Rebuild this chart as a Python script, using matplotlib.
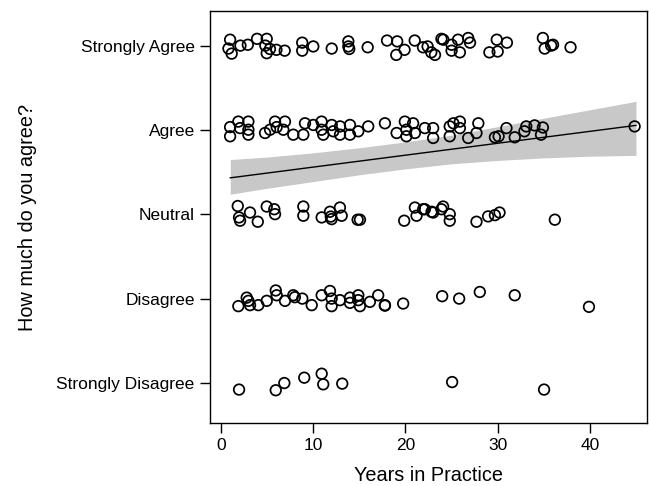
import matplotlib.pyplot as plt
import numpy as np

plt.rcParams['font.family'] = ['Liberation Sans', 'DejaVu Sans']

levels = ['Strongly Disagree', 'Disagree', 'Neutral', 'Agree', 'Strongly Agree']

# years in practice and jittered response per answer group
sa_x = [0.98, 0.8, 1.15, 2.1, 2.9, 3.9, 4.95, 4.8, 4.95, 5.3, 6.0, 6.9, 8.8, 8.8, 10.0, 12.0,
        13.8, 13.8, 13.9, 15.9, 18.0, 19.1, 19.0, 19.9, 21.0, 21.9, 22.8, 22.4, 23.2, 23.9,
        24.1, 25.0, 25.0, 25.7, 25.9, 26.8, 27.0, 29.1, 29.9, 30.0, 31.0, 34.9, 35.1, 35.8,
        36.0, 37.9]
sa_y = [5.07, 4.965, 4.905, 5.0, 5.01, 5.08, 5.08, 5.0, 4.91, 4.96, 4.95, 4.94, 5.035, 4.94,
        4.99, 4.965, 5.05, 4.99, 4.96, 4.98, 5.06, 5.05, 4.89, 4.95, 5.06, 4.98, 4.92, 4.99,
        4.89, 5.08, 5.07, 5.01, 4.94, 5.07, 4.92, 5.09, 5.035, 4.92, 5.07, 4.93, 5.035, 5.09,
        4.965, 5.0, 5.01, 4.98]

ag_x = [0.98, 0.98, 1.87, 2.06, 2.96, 2.96, 2.96, 4.77, 5.31, 5.85, 6.03, 6.93, 6.75, 7.83,
        8.92, 9.1, 10.0, 10.9, 10.9, 11.08, 12.0, 12.17, 12.9, 12.9, 13.98, 13.98, 14.88,
        15.96, 17.77, 19.04, 19.93, 20.1, 20.1, 20.83, 21.02, 22.1, 23.0, 23.0, 24.8, 24.8,
        25.2, 25.9, 25.9, 26.8, 27.7, 27.9, 29.7, 30.1, 30.95, 31.85, 32.9, 33.1, 34.0, 34.9,
        34.7, 44.85]
ag_y = [4.035, 3.926, 4.10, 4.023, 4.10, 4.0035, 3.945, 3.965, 4.0035, 4.10, 4.035, 4.10,
        4.0035, 3.945, 3.945, 4.08, 4.06, 4.10, 4.0035, 3.945, 4.06, 3.985, 4.043, 3.945,
        4.06, 3.945, 3.985, 4.043, 4.08, 3.965, 4.10, 4.0035, 3.926, 4.08, 3.965, 4.023,
        4.023, 3.906, 4.043, 3.926, 4.08, 4.10, 4.023, 3.906, 3.965, 4.08, 3.914, 3.926,
        4.023, 3.914, 3.985, 4.043, 4.055, 4.03, 3.945, 4.043]

ne_x = [1.81, 1.95, 2.06, 3.14, 3.98, 4.95, 5.77, 5.85, 8.92, 8.92, 10.91, 11.81, 11.99,
        11.9, 12.89, 13.08, 14.81, 15.06, 19.86, 21.02, 21.2, 21.92, 22.83, 22.1, 23.0, 23.9,
        24.08, 24.8, 24.8, 27.7, 28.96, 29.7, 30.2, 36.2]
ne_y = [3.10, 2.965, 2.926, 3.023, 2.914, 3.094, 3.062, 3.0035, 3.094, 2.985, 2.965, 3.032,
        2.945, 2.975, 3.082, 2.985, 2.938, 2.938, 2.926, 3.082, 2.985, 3.062, 3.032, 3.062,
        3.023, 3.062, 3.094, 3.0035, 2.926, 2.914, 2.977, 2.992, 3.023, 2.938]

di_x = [1.87, 2.78, 2.96, 3.14, 4.04, 4.95, 5.93, 6.03, 6.93, 7.83, 8.0, 8.81, 9.83, 10.91,
        11.81, 11.99, 11.99, 12.89, 13.98, 13.98, 14.88, 14.88, 15.06, 16.14, 17.04, 17.77,
        17.77, 19.75, 23.98, 25.82, 28.06, 31.85, 39.9]
di_y = [1.914, 2.015, 1.977, 1.926, 1.926, 1.977, 2.10, 2.043, 1.977, 2.043, 2.02, 2.0035,
        1.926, 2.043, 2.094, 2.0035, 1.914, 1.985, 2.015, 1.953, 2.043, 1.985, 1.914, 1.965,
        2.043, 1.926, 1.92, 1.945, 2.032, 2.0035, 2.082, 2.043, 1.906]

sd_x = [1.95, 5.93, 6.86, 9.02, 10.91, 11.08, 13.14, 25.06, 35.03]
sd_y = [0.926, 0.918, 1.0035, 1.067, 1.114, 0.988, 0.9965, 1.015, 0.926]

# fitted line and its confidence band
fit_x = [1, 45]
fit_y = [3.434, 4.055]
band_x = [1, 5, 10, 15, 20, 25, 30, 35, 40, 45]
band_lo = [3.24, 3.31, 3.39, 3.47, 3.54, 3.60, 3.64, 3.67, 3.69, 3.70]
band_hi = [3.65, 3.68, 3.73, 3.79, 3.86, 3.94, 4.04, 4.14, 4.24, 4.34]

fig = plt.figure(figsize=(6.49, 4.86), dpi=100)
ax = fig.add_axes([0.3236, 0.1296, 0.6734, 0.8478])

ax.fill_between(band_x, band_lo, band_hi, color='#c8c8c8', lw=0, zorder=1)
ax.plot(fit_x, fit_y, color='black', lw=1, zorder=2)
for x, y in [(sa_x, sa_y), (ag_x, ag_y), (ne_x, ne_y), (di_x, di_y), (sd_x, sd_y)]:
    ax.scatter(x, y, s=58, facecolors='none', edgecolors='black', linewidths=1.25, zorder=3)

ax.set_xlim(-1.2, 46.2)
ax.set_ylim(0.53, 5.41)
ax.set_xticks([0, 10, 20, 30, 40])
ax.set_yticks([1, 2, 3, 4, 5])
ax.set_yticklabels(levels)
ax.tick_params(labelsize=12.5, length=7, width=1, pad=4)
ax.set_xlabel('Years in Practice', fontsize=14.3, labelpad=9)
ax.set_ylabel('How much do you agree?', fontsize=14.3, labelpad=14)
for sp in ax.spines.values():
    sp.set_linewidth(1)

fig.savefig('out.png', dpi=100)
